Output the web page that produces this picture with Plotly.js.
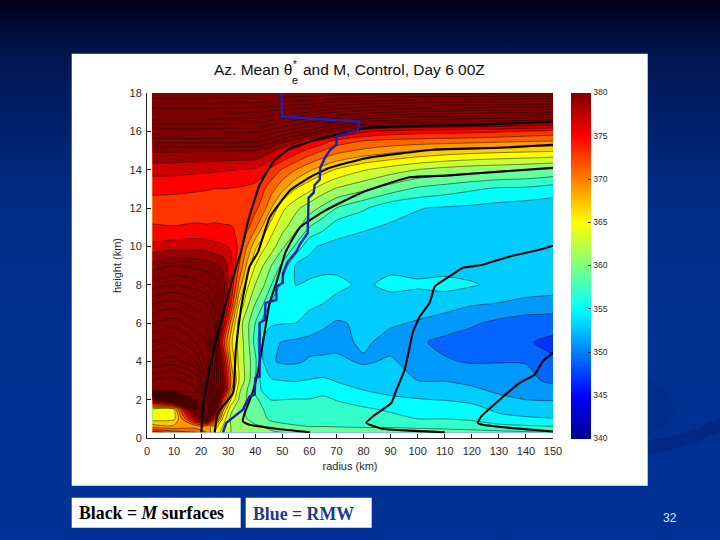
<!DOCTYPE html>
<html>
<head>
<meta charset="utf-8">
<script src="https://cdn.plot.ly/plotly-3.0.1.min.js"></script>
<style>
html,body{margin:0;padding:0;width:720px;height:540px;overflow:hidden;
background:linear-gradient(180deg,#000018 0px,#001550 55px,#002a80 180px,#00308f 320px,#003196 540px);}
#plot{width:720px;height:540px;}
</style>
</head>
<body>
<div id="plot"></div>
<script>
// radius (km) and height (km) of the theta-e* field
const radius = [2,10,18,22,25,28,31,34,37,40,43,46,50,55,60,65,70,80,90,100,110,120,130,140,150];
const height = [0.3,0.6,1,1.5,2,2.5,3,4,5,6,7,8,9,10,11,12,13,14,15,15.5,16,16.5,17,18];

const th_z00_3 = [375,373,372,370,366,363,362,361.5,361,360.8,360.6,360.5,360,360,359.7,359.5,359.5,359.5,359.3,359.1,358.9,358.7,358.5,358.2,358.1];
const th_z00_6 = [369,368.5,369,369,367,364,362,361,360.5,360.2,360,358.7,358.3,358.1,358,358,357.9,357.7,357.7,357.5,357.3,357,356.6,356.3,356];
const th_z01_0 = [365,365.5,378,384,375,365.5,361.5,360.5,360,359.5,358.3,357.7,357.6,357.6,357.5,357.5,357.2,356.7,356.4,356,356,355.7,354.7,354.3,354.1];
const th_z01_5 = [365.5,366,388,394,382,369,362.5,360.8,359.5,358.8,358,357.5,357.3,357.4,357.2,357.2,356.8,356.2,355.8,355.3,355.3,354.8,353.5,353,352.8];
const th_z02_0 = [380,386,405,400,388,374,366,361.8,359.8,358.5,357.2,355.9,356,356.1,356.1,356.5,355.9,355.4,354.3,354.1,353.9,353.4,352.4,352,351.9];
const th_z02_5 = [408,410,409,400,390,381,368.5,362.5,360,357.5,355.5,355,354.9,354.7,354.8,355.2,354.6,354,353.6,353.3,353.2,352.3,351.7,351.4,350.9];
const th_z03 = [408,409,406,398,388,380,370,364,361,358,354.6,354.2,354,353.9,354.1,354.3,353.9,353.4,352.9,352,351.9,351.6,351.1,350.6,349.5];
const th_z04 = [402,403,400,395,388,378,368,363.5,361,358.5,354,352.2,351.7,351.7,352.2,352.4,352.5,351.7,352.3,351,350.2,349.8,349.9,349.9,348.3];
const th_z05 = [398,399,396,394,385,373.5,366.5,363.3,360.8,357.3,353.6,352.5,351.9,351.6,351.4,351.2,351.3,352.4,351.2,350.3,349.5,349,348.7,348.2,347.5];
const th_z06 = [394,395,392.5,391,388,378,369.5,363,360.6,358,354.9,354.3,354.1,354,353.2,352.4,351.8,352.3,352.3,351.8,351,350.3,349.5,349,348.9];
const th_z07 = [390,391,389,388,385.5,380.5,374,366,362.5,360,358,355.6,355,354.7,354.4,354,353.4,352.6,353,353,352.9,352.2,351.9,351.4,351.2];
const th_z08 = [385,386,385,384,383,381,376,369.5,364.5,362,360.3,358,355.5,353.95,354.2,354.5,354.5,353.6,354.6,354.3,354.6,354.2,353.5,353.2,353];
const th_z09 = [381,382,381.5,381,380.5,379.5,376.5,372,367.5,364,362,360,357.5,353.7,353.5,353.5,353.5,353.5,353.4,353.3,353.2,353.1,353,352.8,352.6];
const th_z10 = [376.5,377,377.2,377,376.6,376.3,375.8,373.5,370,366.5,364.5,363,360.5,357.6,354.4,353.7,353.5,353.3,353.1,352.9,352.7,352.6,352.4,352.3,352.2];
const th_z11 = [374.2,374.1,374.3,374.2,374.3,374.2,374.1,373.7,372.5,370.5,367.5,364.8,362.7,360.7,358,356.6,354.9,354.2,353.8,353.4,353.1,352.9,352.7,352.5,352.4];
const th_z12 = [373,372.8,373,373,373,373,373,372.9,372.8,372.5,371,368,364.5,362.5,361,359.5,358,356.3,354.6,354.1,353.8,353.6,353.3,353,352.8];
const th_z13 = [374.5,374.5,374.2,374.1,374,374,373.9,373.8,373.6,373.2,372.3,370.8,368.5,366,364.5,363,361.8,360.5,359,357.6,357,356.3,355.7,355.6,355];
const th_z14 = [376.8,376.7,376.5,376.4,376.3,376.2,376.1,376,375.9,375.7,374.8,373.4,371.8,370,368.3,367,365.8,364.2,363,362,361.3,360.8,360.5,360.2,359.7];
const th_z15 = [380.3,380.3,380.2,380.2,380.2,380.2,380.1,380.1,380.1,380.1,379.5,378.5,376.8,375,373.4,372,370.8,369.6,368.8,368,367.4,367,366.7,366.5,366.3];
const th_z15_5 = [385,385,385,385,385,384.9,384.9,384.8,384.8,384.8,384,383,381,379,376.4,375.2,373.2,372,371.4,371.2,371,370.8,370.5,370.2,370];
const th_z16 = [389,389,389,389,388.9,388.8,388.7,388.6,388.6,388.5,388,387,386,384.7,383.5,381.5,380,376.5,375.5,375,374.8,374.6,374.3,373.8,373.4];
const th_z16_5 = [393,393,393,393,393,392.9,392.8,392.7,392.6,392.5,392,391.3,390.5,389.2,388,387,386,384,383,382.4,382,381.8,381.5,381,380.7];
const th_z17 = [396.5,396.5,396.5,396.5,396.5,396.4,396.3,396.2,396.1,396,395.8,395.4,395,394.5,394,393,392,391,390,389.5,389.2,388.9,388.6,388.3,388];
const th_z18 = [404,404,404,404,404,404,404,404,404,404,404,404,404,403.8,403.6,403.4,403.2,403,402.8,402.6,402.5,402.4,402.3,402.2,402];
const thetaRows = [th_z00_3,th_z00_6,th_z01_0,th_z01_5,th_z02_0,th_z02_5,th_z03,th_z04,th_z05,th_z06,th_z07,th_z08,th_z09,th_z10,th_z11,th_z12,th_z13,th_z14,th_z15,th_z15_5,th_z16,th_z16_5,th_z17,th_z18];

// M surfaces
const m1_r = [20.1,20.7,22.5,25.6,31.2,34.9,37.3,41.6,46.6,52.7,62.6,72.4,82.3,122.9,150];
const m1_z = [0.3,1.65,3.2,5.1,8.1,9.8,11.3,13.2,14.4,15.1,15.56,15.9,16.2,16.35,16.5];
const m2_r = [25,26.2,31.8,32.8,34.9,37.9,41,45.3,52.7,60.1,67.5,81,105.6,130.3,150];
const m2_z = [0.3,1.3,2.36,4.6,6.9,8.95,9.7,11.5,12.9,13.6,14.1,14.6,15.04,15.14,15.3];
const m3_r = [60.1,47.8,37.9,35.4,36.1,39,40.9,42.8,45.3,47.8,51.2,56.4,65,72.4,81,97,111.8,130.3,150];
const m3_z = [0.3,0.48,0.69,0.87,1.3,2.36,3.4,4.95,7.05,8.1,9.7,10.97,11.8,12.34,12.9,13.6,13.7,13.9,14.1];
const m4_r = [110,87,81,83.5,90.3,92.1,95.2,98.2,100.8,104.4,106.3,111.8,116.7,124,134,145,150];
const m4_z = [0.3,0.48,0.79,1.13,1.83,2.5,3.56,5.5,6.35,7.05,7.9,8.43,8.88,9.04,9.47,9.82,10.03];
const m5_r = [150,134,124,122.2,123.5,130.3,137.7,143.2,146.2,150];
const m5_z = [0.34,0.53,0.69,0.79,1.13,2,2.88,3.3,4,4.44];

// radius of maximum wind
const rmw_r = [28.1,29.3,35.4,37.9,39.8,40,41.6,41.6,43.5,43.8,47.8,47.8,50.2,50.2,52,55.2,56.4,59.4,59.7,61.6,61.9,63.8,64,65.7,67.7,70,70,77.9,78.6,50,49.6];
const rmw_z = [0.3,0.79,1.48,2.17,2.26,3.14,3.2,6,6.17,7.05,7.2,7.9,8.1,8.6,9.2,9.73,10.08,10.7,12.53,12.8,13.2,13.47,14.1,14.6,15.03,15.3,15.73,16.08,16.5,16.77,18];

const xTicks = [0,10,20,30,40,50,60,70,80,90,100,110,120,130,140,150];
const yTicks = [0,2,4,6,8,10,12,14,16,18];
const barTicks = [340,345,350,355,360,365,370,375,380];

const titleHead = 'Az. Mean θ';
const titleTail = 'and M, Control, Day 6 00Z';
const xTitleText = 'radius (km)';
const yTitleText = 'height (km)';
const noteBlack = '<b>Black = <i>M</i> surfaces</b>';
const noteBlue = '<b>Blue = RMW</b>';
const slideNumber = '32';

// jet colour stops (value, colour)
const jetStops = [[339,'#000080'],[345,'#0000ff'],[355,'#00ffff'],[365,'#ffff00'],[375,'#ff0000'],[380,'#800000']];
const levelStart = 340, levelEnd = 424, levelStep = 2;
const fillLow = levelStart - levelStep/2, fillHigh = levelEnd + levelStep/2;
const fillScale = jetStops.map(s => [(s[0]-fillLow)/(fillHigh-fillLow), s[1]]).concat([[1,'#800000']]);
const barScale = [[0,'#00008f'],[0.125,'#0000ff'],[0.375,'#00ffff'],[0.625,'#ffff00'],[0.875,'#ff0000'],[1,'#800000']];

// plot box in page pixels
const L = 147.3, R = 553.3, T = 93.3, B = 438.3;
const px = p => (p-L)/(R-L), py = p => (B-p)/(B-T);
const sans = 'Liberation Sans, Arial, sans-serif';
const serif = 'Liberation Serif, Times New Roman, serif';
const axisInk = '#2a2a2a';

function mLine(r,z){ return {type:'scatter',mode:'lines',x:r,y:z,line:{color:'#000',width:2.1,shape:'spline',smoothing:0.4},hoverinfo:'skip',showlegend:false}; }

const traces = [
 {type:'contour',x:radius,y:height,z:thetaRows,autocontour:false,
  contours:{start:levelStart,end:levelEnd,size:levelStep,coloring:'fill',showlines:true},
  colorscale:fillScale,showscale:false,line:{color:'rgba(0,0,0,0.8)',width:0.6,smoothing:0.7},hoverinfo:'skip'},
 {type:'heatmap',x:[-60,-50],y:[-6,-5],z:[[340,380],[340,380]],zmin:340,zmax:380,colorscale:barScale,hoverinfo:'skip',
  colorbar:{x:(571-L)/(R-L),xanchor:'left',xpad:0,y:0.5,yanchor:'middle',ypad:0,thickness:20,thicknessmode:'pixels',len:346,lenmode:'pixels',
   tickmode:'array',tickvals:barTicks,ticktext:barTicks.map(String),ticks:'inside',ticklen:3,tickcolor:'#333',outlinewidth:0,
   tickfont:{family:sans,size:8.5,color:axisInk}}},
 mLine(m1_r,m1_z),mLine(m2_r,m2_z),mLine(m3_r,m3_z),mLine(m4_r,m4_z),mLine(m5_r,m5_z),
 {type:'scatter',mode:'lines',x:rmw_r,y:rmw_z,line:{color:'#1a22b4',width:2.4},hoverinfo:'skip',showlegend:false}
];

function box(x0,x1,y0,y1){ return {type:'rect',xref:'paper',yref:'paper',x0:px(x0),x1:px(x1),y0:py(y0),y1:py(y1),fillcolor:'#fff',line:{width:0},layer:'below'}; }
function note(text,x,y,anchor,size,color,family){ return {text:text,xref:'paper',yref:'paper',x:px(x),y:py(y),xanchor:anchor,yanchor:'middle',showarrow:false,font:{family:family,size:size,color:color}}; }
// faint backdrop swooshes of the slide template, as page-pixel paths
function swoosh(points,fill){
  const d = points.map((p,i)=>(i? 'L':'M')+px(p[0]).toFixed(4)+','+py(p[1]).toFixed(4)).join(' ')+' Z';
  return {type:'path',xref:'paper',yref:'paper',path:d,fillcolor:fill,line:{width:0},layer:'below'};
}
const swooshBand = [[648,441],[670,437],[695,430],[720,418],[720,432],[695,443],[670,450],[648,456]];
const swooshArc = [[648,380],[664,390],[677,412],[666,426],[648,436]];

const layout = {
 width:720,height:540,margin:{l:L,r:720-R,t:T,b:540-B,pad:0},
 paper_bgcolor:'rgba(0,0,0,0)',plot_bgcolor:'rgba(0,0,0,0)',showlegend:false,
 xaxis:{range:[0,150],tickmode:'array',tickvals:xTicks,ticks:'inside',ticklen:4,tickcolor:'#222',showline:true,linecolor:'#222',linewidth:1,showgrid:false,zeroline:false,ticklabelstandoff:3,
  tickfont:{family:sans,size:11,color:axisInk},title:{text:xTitleText,font:{family:sans,size:11,color:axisInk},standoff:6}},
 yaxis:{range:[0,18],tickmode:'array',tickvals:yTicks,ticks:'inside',ticklen:4,tickcolor:'#222',showline:true,linecolor:'#222',linewidth:1,showgrid:false,zeroline:false,ticklabelstandoff:2,
  tickfont:{family:sans,size:11,color:axisInk},title:{text:yTitleText,font:{family:sans,size:11,color:axisInk},standoff:5}},
 shapes:[swoosh(swooshBand,'rgba(0,30,110,0.4)'),swoosh(swooshArc,'rgba(0,35,120,0.3)'),box(72,648,54,486),box(72,241,498,528),box(246,372,498,528)],
 annotations:[
  note(titleHead,212,70,'left',15.5,'#111',sans),
  note('*',295,65,'center',10,'#111',sans),
  note('e',295.5,80,'center',11,'#111',sans),
  note(titleTail,301,70,'left',15.5,'#111',sans),
  note(noteBlack,77,513,'left',17.8,'#000',serif),
  note(noteBlue,251,514,'left',17.8,'#1b3a8c',serif),
  note(slideNumber,670.5,518,'center',12,'#dde6ff',sans)
 ]
};
Plotly.newPlot('plot',traces,layout,{displayModeBar:false,staticPlot:true});
</script>
</body>
</html>
